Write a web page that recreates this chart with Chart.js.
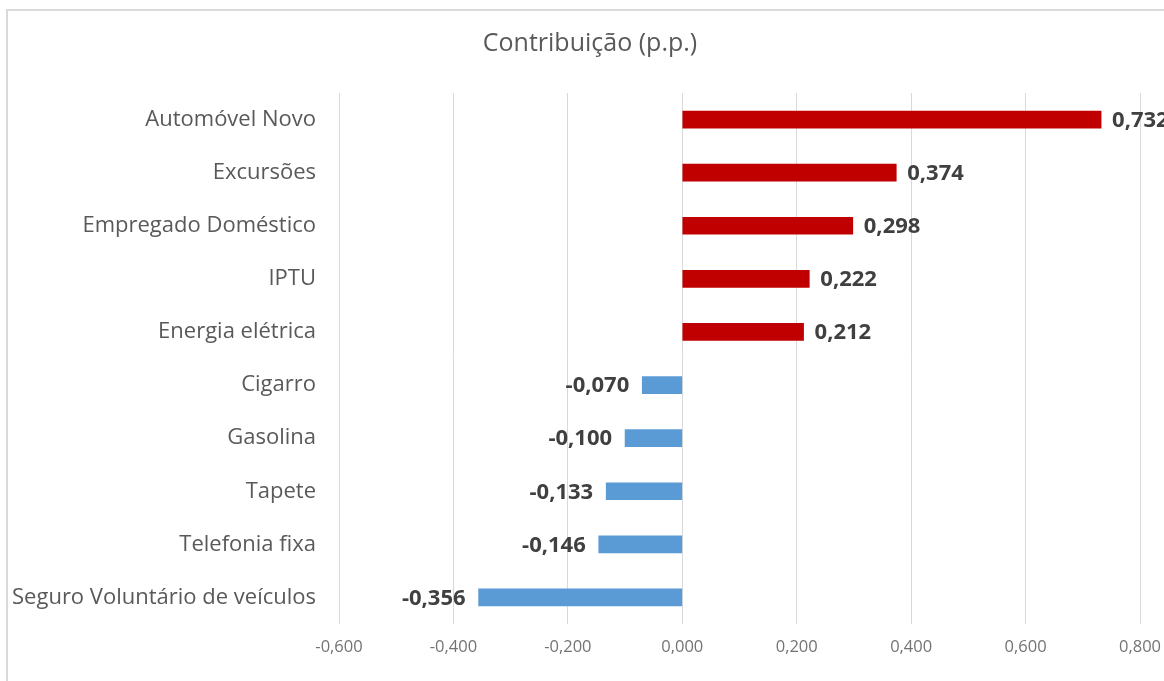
<!DOCTYPE html>
<html>
<head>
<meta charset="utf-8">
<script src="https://cdn.jsdelivr.net/npm/chart.js@4"></script>
<style>
  html, body { margin: 0; padding: 0; background: #fff; overflow: hidden; }
  #wrap { position: relative; width: 1164px; height: 681px; overflow: hidden; }
  #frame { position: absolute; left: 6px; top: 9px; width: 1200px; height: 700px; border: 2px solid #d9d9d9; box-sizing: border-box; }
  #box { position: absolute; left: 0; top: 0; width: 1180px; height: 681px; }
</style>
</head>
<body>
<div id="wrap">
  <div id="frame"></div>
  <div id="box"><canvas id="chart"></canvas></div>
</div>
<script>
// categories top to bottom
const categories = [
  "Automóvel Novo",
  "Excursões",
  "Empregado Doméstico",
  "IPTU",
  "Energia elétrica",
  "Cigarro",
  "Gasolina",
  "Tapete",
  "Telefonia fixa",
  "Seguro Voluntário de veículos"
];
const contributions = [0.732, 0.374, 0.298, 0.222, 0.212, -0.070, -0.100, -0.133, -0.146, -0.356];
const xTicks = [-0.6, -0.4, -0.2, 0, 0.2, 0.4, 0.6, 0.8];

const FONT = "'Open Sans'";
const fmt = v => v.toFixed(3).replace(".", ",");

// value labels at the end of each bar
const barLabels = {
  id: "barLabels",
  afterDatasetsDraw(chart) {
    const ctx = chart.ctx;
    const meta = chart.getDatasetMeta(0);
    ctx.save();
    ctx.font = "bold 22px " + FONT;
    ctx.fillStyle = "#404040";
    ctx.textBaseline = "middle";
    meta.data.forEach((bar, i) => {
      const v = contributions[i];
      if (v >= 0) {
        ctx.textAlign = "left";
        ctx.fillText(fmt(v), bar.x + 11, bar.y + 1);
      } else {
        ctx.textAlign = "right";
        ctx.fillText(fmt(v), bar.x - 13, bar.y + 1);
      }
    });
    ctx.restore();
  }
};

new Chart(document.getElementById("chart"), {
  type: "bar",
  data: {
    labels: categories,
    datasets: [{
      data: contributions,
      backgroundColor: contributions.map(v => v >= 0 ? "#c00000" : "#5b9bd5"),
      barThickness: 17
    }]
  },
  options: {
    indexAxis: "y",
    responsive: true,
    maintainAspectRatio: false,
    animation: false,
    layout: { padding: 0 },
    plugins: {
      legend: { display: false },
      tooltip: { enabled: false },
      title: {
        display: true,
        text: "Contribuição (p.p.)",
        color: "#595959",
        font: { family: FONT, size: 25, weight: "normal" },
        padding: { top: 29, bottom: 34 }
      }
    },
    scales: {
      x: {
        min: -0.6,
        max: 0.8,
        afterBuildTicks: scale => { scale.ticks = xTicks.map(v => ({ value: v })); },
        afterFit: scale => { scale.height = 57; },
        grid: { color: "#d9d9d9", lineWidth: 1, drawTicks: false },
        border: { display: false },
        ticks: {
          padding: 13,
          color: "#737373",
          font: { family: FONT, size: 16.5 },
          callback: v => fmt(v)
        }
      },
      y: {
        afterFit: scale => { scale.width = 339; },
        grid: { display: false, drawTicks: false },
        border: { display: false },
        ticks: {
          padding: 23,
          color: "#595959",
          font: { family: FONT, size: 22 }
        }
      },
      // empty right margin so the plot ends at 0,800 and the title stays centred on the whole frame
      yRight: {
        position: "right",
        afterFit: scale => { scale.width = 40; },
        grid: { display: false, drawTicks: false },
        border: { display: false },
        ticks: { display: false }
      }
    }
  },
  plugins: [barLabels]
});
</script>
</body>
</html>
